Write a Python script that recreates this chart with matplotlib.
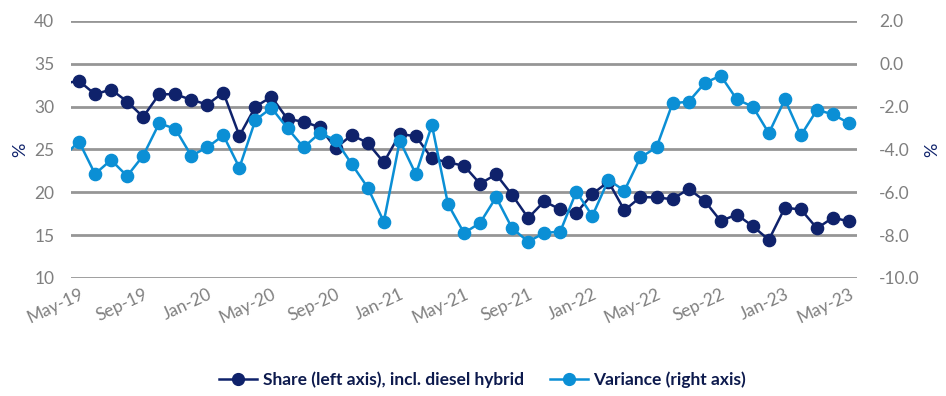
import matplotlib
matplotlib.use("Agg")
import matplotlib.pyplot as plt
from matplotlib.lines import Line2D

months = ["Apr-19","May-19","Jun-19","Jul-19","Aug-19","Sep-19","Oct-19","Nov-19","Dec-19",
          "Jan-20","Feb-20","Mar-20","Apr-20","May-20","Jun-20","Jul-20","Aug-20","Sep-20","Oct-20","Nov-20","Dec-20",
          "Jan-21","Feb-21","Mar-21","Apr-21","May-21","Jun-21","Jul-21","Aug-21","Sep-21","Oct-21","Nov-21","Dec-21",
          "Jan-22","Feb-22","Mar-22","Apr-22","May-22","Jun-22","Jul-22","Aug-22","Sep-22","Oct-22","Nov-22","Dec-22",
          "Jan-23","Feb-23","Mar-23","Apr-23","May-23"]

share = [32.7, 33.0, 31.45, 32.0, 30.6, 28.8, 31.45, 31.45, 30.8,
         30.25, 31.65, 26.6, 30.0, 31.15, 28.55, 28.25, 27.6, 25.15, 26.7, 25.75, 23.5,
         26.8, 26.55, 23.95, 23.5, 23.1, 21.0, 22.1, 19.7, 17.0, 18.95, 18.0, 17.6,
         19.8, 21.25, 17.9, 19.45, 19.4, 19.2, 20.4, 19.0, 16.65, 17.4, 16.05, 14.45,
         18.2, 18.0, 15.8, 17.05, 16.6]

variance = [-4.35, -3.63, -5.14, -4.49, -5.24, -4.29, -2.78, -3.03, -4.29,
            -3.9, -3.34, -4.85, -2.62, -2.06, -3.01, -3.9, -3.24, -3.56, -4.68, -5.78, -7.37,
            -3.59, -5.16, -2.86, -6.55, -7.9, -7.43, -6.23, -7.68, -8.3, -7.9, -7.83, -5.97,
            -7.1, -5.42, -5.92, -4.37, -3.9, -1.84, -1.77, -0.9, -0.55, -1.66, -2.0, -3.24,
            -1.66, -3.34, -2.15, -2.36, -2.78]

tick_labels = ["May-19","Sep-19","Jan-20","May-20","Sep-20","Jan-21","May-21",
               "Sep-21","Jan-22","May-22","Sep-22","Jan-23","May-23"]

left_ticks = [10, 15, 20, 25, 30, 35, 40]
right_ticks = [-10, -8, -6, -4, -2, 0, 2]

label_share = "Share (left axis), incl. diesel hybrid"
label_var = "Variance (right axis)"

DARK = "#0f226b"
LIGHT = "#0b8fd5"
GRAY = "#7f7f7f"
GRID = "#969696"
FONT = ["Lato", "DejaVu Sans"]

plt.rcParams["font.family"] = FONT

x = [i - 1 for i in range(len(months))]  # May-19 = 0
tick_pos = [months.index(t) - 1 for t in tick_labels]

fig = plt.figure(figsize=(9.46, 3.96), dpi=100)
ax = fig.add_axes([0.075, 0.298, 0.831, 0.649])
ax2 = ax.twinx()

ax.set_ylim(10, 40)
ax2.set_ylim(-10, 2)
ax.set_xlim(-0.5, 48.5)

ax.set_yticks(left_ticks)
ax.set_yticklabels([str(t) for t in left_ticks])
ax2.set_yticks(right_ticks)
ax2.set_yticklabels([f"{t:.1f}" for t in right_ticks])
ax.grid(axis="y", color=GRID, linewidth=2.0)
ax.set_axisbelow(True)

ax.plot(x, share, color=DARK, linewidth=1.8, marker="o", markersize=8.8, zorder=3, clip_on=True)
ax2.plot(x, variance, color=LIGHT, linewidth=1.8, marker="o", markersize=8.8, zorder=3, clip_on=True)

ax.set_xticks(tick_pos)
ax.set_xticklabels(tick_labels, rotation=25, ha="right", rotation_mode="anchor")

for a in (ax, ax2):
    for s in a.spines.values():
        s.set_visible(False)
    a.tick_params(length=0, labelsize=12.5, colors=GRAY)
ax.tick_params(axis="x", pad=6)
ax.tick_params(axis="y", pad=12)
ax2.tick_params(axis="y", pad=16)

ax.set_ylabel("%", color=DARK, fontsize=13, labelpad=4)
ax2.set_ylabel("%", color=DARK, fontsize=13, labelpad=3)

handles = [Line2D([0], [0], color=DARK, linewidth=1.8, marker="o", markersize=8.5),
           Line2D([0], [0], color=LIGHT, linewidth=1.8, marker="o", markersize=8.5)]
leg = fig.legend(handles, [label_share, label_var], loc="center", bbox_to_anchor=(0.51, 0.04),
                 ncol=2, frameon=False, handlelength=2.2, handletextpad=0.3, columnspacing=1.5,
                 prop={"family": FONT, "weight": "bold", "size": 12.5})
for t in leg.get_texts():
    t.set_color("#0d1a4d")

fig.savefig("out.png", dpi=100)
